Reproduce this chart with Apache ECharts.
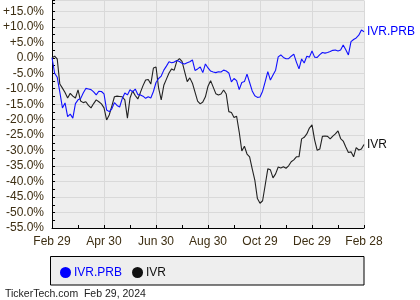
<!DOCTYPE html>
<html>
<head>
<meta charset="utf-8">
<script src="https://cdn.jsdelivr.net/npm/echarts@6/dist/echarts.min.js"></script>
<style>html,body{margin:0;padding:0;background:#fff}#c{width:420px;height:300px}</style>
</head>
<body>
<div id="c"></div>
<script>
var tickLabels = ['Feb 29','Apr 30','Jun 30','Aug 30','Oct 29','Dec 29','Feb 28'];
var seriesNames = ['IVR.PRB','IVR'];
var prbValues = [0.0,-5.0,-6.3,-11.1,-16.2,-14.6,-19.0,-18.2,-19.5,-14.8,
 -13.6,-13.2,-11.4,-9.9,-10.1,-10.3,-11.0,-12.0,-10.8,-10.9,
 -11.7,-16.9,-17.4,-16.5,-14.5,-15.4,-15.9,-13.2,-11.4,-12.0,
 -10.3,-11.0,-10.1,-11.9,-12.0,-12.4,-13.1,-12.6,-13.0,-10.9,
 -8.0,-6.7,-5.9,-4.0,-2.7,-1.3,-1.6,-1.4,-0.9,-1.2,
 -1.8,-2.0,-1.6,-1.3,-0.7,-4.1,-3.6,-3.0,-4.8,-2.0,
 -3.3,-4.3,-4.6,-4.8,-4.5,-4.6,-4.0,-4.3,-4.9,-7.8,
 -6.7,-7.4,-10.3,-8.0,-7.7,-5.3,-8.0,-10.7,-12.3,-12.8,
 -12.7,-10.8,-7.7,-4.5,-7.2,-5.6,-4.0,0.3,0.9,0.1,
 -0.3,-0.3,0.5,1.2,-1.4,-3.6,-0.4,-1.7,0.5,0.2,
 2.2,0.2,0.1,1.0,1.7,1.5,1.7,2.0,2.4,2.5,
 2.2,2.5,4.1,2.6,0.9,5.2,5.9,6.4,7.3,9.0,
 8.4];
var ivrValues = [0.0,0.5,-0.4,-8.5,-9.8,-11.2,-13.0,-11.5,-12.4,-13.0,
 -10.4,-14.0,-14.5,-14.2,-15.4,-16.2,-14.8,-13.6,-14.2,-14.9,
 -16.2,-20.1,-18.5,-15.6,-12.6,-12.4,-12.5,-12.6,-13.6,-19.5,
 -13.0,-10.7,-12.2,-13.3,-11.2,-9.0,-7.2,-7.0,-8.5,-3.3,
 -3.0,-9.8,-13.6,-8.9,-6.9,-4.9,-3.6,-4.0,-1.1,-0.3,
 -1.2,-4.5,-7.7,-6.5,-8.2,-11.1,-14.0,-14.9,-14.3,-12.6,
 -9.2,-7.4,-9.5,-11.6,-12.0,-11.7,-10.4,-11.7,-17.4,-17.7,
 -19.3,-18.9,-24.0,-30.1,-28.6,-31.1,-32.0,-35.9,-39.5,-45.5,
 -47.0,-46.2,-41.1,-35.9,-36.2,-38.8,-37.5,-35.3,-35.6,-35.2,
 -35.7,-34.9,-33.6,-33.0,-32.0,-32.0,-26.2,-25.7,-24.6,-22.7,
 -21.7,-26.5,-29.9,-29.5,-25.4,-25.3,-25.4,-26.2,-25.3,-24.6,
 -23.6,-26.1,-26.9,-28.8,-30.6,-30.4,-32.0,-29.0,-29.8,-29.5,
 -28.0];
var footerText = 'TickerTech.com  Feb 29, 2024';

var months = 12;
function toPairs(arr){
  var n = arr.length;
  return arr.map(function(v,i){ return [i*months/(n-1), v]; });
}
var labelColor = '#3d2e12';
var font = '"Liberation Sans", Arial, sans-serif';
var chart = echarts.init(document.getElementById('c'), null, {renderer:'canvas'});
chart.setOption({
  animation: false,
  backgroundColor: '#ffffff',
  grid: {left: 51, right: 56, top: 0.5, bottom: 72, show: true, backgroundColor: '#eeeeee', borderWidth: 0},
  xAxis: {
    type: 'value', min: 0, max: months, interval: 2,
    axisLine: {show: true, onZero: false, lineStyle: {color: '#000', width: 1}},
    axisTick: {show: true, inside: true, length: 3, lineStyle: {color: '#000'}},
    minorTick: {show: true, splitNumber: 2, length: 3, lineStyle: {color: '#000'}},
    splitLine: {show: true, lineStyle: {color: '#d9d9d9', width: 1}},
    axisLabel: {color: labelColor, fontSize: 12, fontFamily: font, margin: 8,
      formatter: function(v){ return tickLabels[Math.round(v/2)] || ''; }}
  },
  yAxis: {
    type: 'value', min: -55, max: 18.5, interval: 2.5,
    axisLine: {show: true, lineStyle: {color: '#000', width: 1}},
    axisTick: {show: true, inside: true, length: 3, lineStyle: {color: '#000'}},
    splitLine: {show: true, lineStyle: {color: ['#d9d9d9', 'rgba(0,0,0,0)'], width: 1}},
    axisLabel: {color: labelColor, fontSize: 12, fontFamily: font, margin: 8,
      formatter: function(v){
        if (Math.abs(v % 5) > 1e-6) return '';
        return (v > 0 ? '+' : '') + v.toFixed(1) + '%';
      }}
  },
  legend: {
    left: 55, top: 261.5, itemWidth: 11, itemHeight: 11, itemGap: 10, icon: 'circle', z: 5,
    textStyle: {fontSize: 12, fontFamily: font, padding: [0,0,0,-2]},
    data: [
      {name: seriesNames[0], textStyle: {color: '#0000ff'}},
      {name: seriesNames[1], textStyle: {color: '#111111'}}
    ]
  },
  graphic: [
    {type: 'rect', z: 0, shape: {x: 50.5, y: 256.5, width: 313.5, height: 28.5},
     style: {fill: '#eeeeee', stroke: '#000000', lineWidth: 1}},
    {type: 'text', left: 5, top: 289, z: 1,
     style: {text: footerText, font: '10.5px ' + font, fill: '#222222'}}
  ],
  series: [
    {name: seriesNames[0], type: 'line', data: toPairs(prbValues), showSymbol: false, z: 3,
     itemStyle: {color: '#0000ff'}, lineStyle: {color: '#1010ff', width: 1.1},
     endLabel: {show: true, formatter: '{a}', color: '#0000ff', fontSize: 12, fontFamily: font, distance: 3}},
    {name: seriesNames[1], type: 'line', data: toPairs(ivrValues), showSymbol: false, z: 2,
     itemStyle: {color: '#111111'}, lineStyle: {color: '#222222', width: 1.1},
     endLabel: {show: true, formatter: '{a}', color: '#111111', fontSize: 12, fontFamily: font, distance: 3}}
  ]
});
</script>
</body>
</html>
